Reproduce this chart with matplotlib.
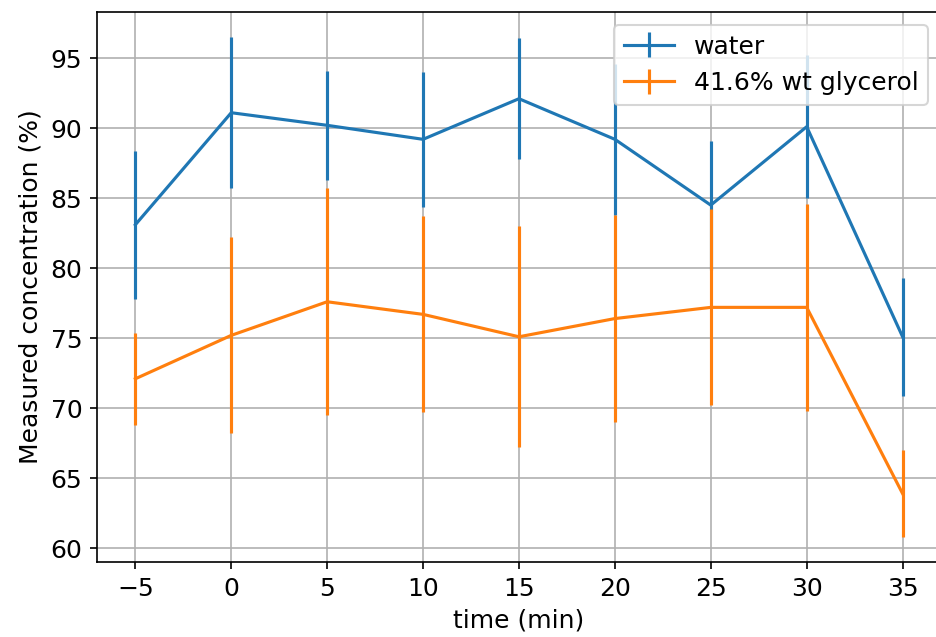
import numpy as np
import matplotlib
matplotlib.use("Agg")
import matplotlib.pyplot as plt

time = [-5, 0, 5, 10, 15, 20, 25, 30, 35]

water = [83.1, 91.1, 90.2, 89.2, 92.1, 89.2, 84.5, 90.1, 75.1]
water_err = [5.3, 5.4, 3.9, 4.8, 4.3, 5.4, 4.6, 5.1, 4.2]

glycerol = [72.1, 75.2, 77.6, 76.7, 75.1, 76.4, 77.2, 77.2, 63.9]
glycerol_err = [3.3, 7.0, 8.1, 7.0, 7.9, 7.4, 7.0, 7.4, 3.1]

plt.rcParams['font.size'] = 12

fig = plt.figure(figsize=(6.24, 4.2467), dpi=150)
ax = fig.add_axes([0.1036, 0.1177, 0.9017, 0.8633])

ax.errorbar(time, water, yerr=water_err, label="water")
ax.errorbar(time, glycerol, yerr=glycerol_err, label="41.6% wt glycerol")

ax.set_xlabel("time (min)")
ax.set_ylabel("Measured concentration (%)")
ax.set_xticks(np.arange(-5, 36, 5))
ax.grid(True)
ax.legend(loc="upper right")

fig.savefig("out.png", dpi=150)
